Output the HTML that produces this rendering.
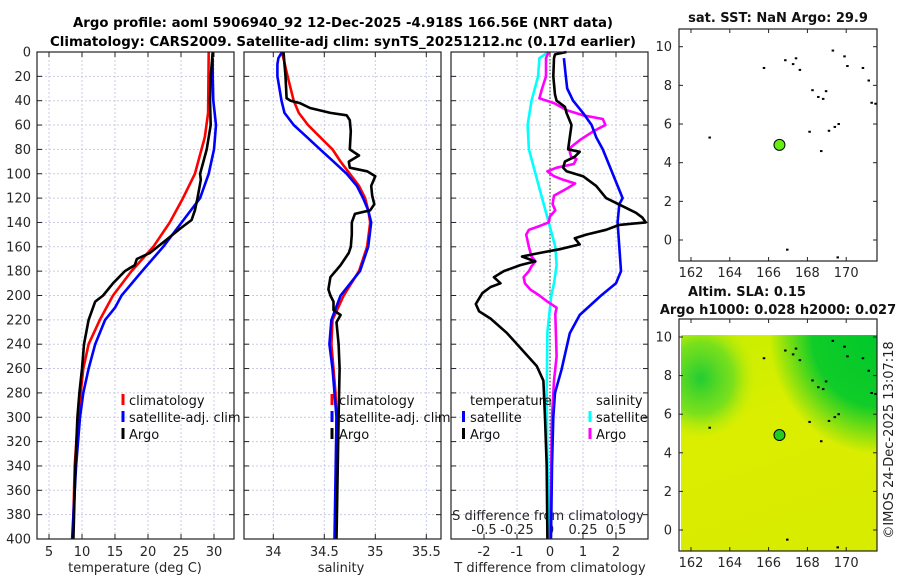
<!DOCTYPE html>
<html><head><meta charset="utf-8"><style>
html,body{margin:0;padding:0;background:#fff;}
svg{display:block;font-family:"DejaVu Sans","Liberation Sans",sans-serif;}
</style></head><body>
<svg id="fig" width="900" height="580" viewBox="0 0 900 580" xmlns="http://www.w3.org/2000/svg">
<g id="titles">
<text x="343" y="27" text-anchor="middle" font-size="13" font-weight="bold" textLength="540" lengthAdjust="spacingAndGlyphs">Argo profile: aoml 5906940_92 12-Dec-2025 -4.918S 166.56E (NRT data)</text>
<text x="343" y="46" text-anchor="middle" font-size="13" font-weight="bold" textLength="586" lengthAdjust="spacingAndGlyphs">Climatology: CARS2009. Satellite-adj clim: synTS_20251212.nc (0.17d earlier)</text>
</g>
</svg>
<script>
// ---------- data ----------
const depthTicks=[0,20,40,60,80,100,120,140,160,180,200,220,240,260,280,300,320,340,360,380,400];
const tempTicks=[5,10,15,20,25,30];
const salTicks=[34,34.5,35,35.5];
const salTickLabels=["34","34.5","35","35.5"];
const dTTicks=[-2,-1,0,1,2];
const dSTicks=[-0.5,-0.25,0,0.25,0.5];
const dSTickLabels=["-0.5","-0.25","0","0.25","0.5"];

const tClimDepth=[0,50,70,80,100,120,140,160,180,200,220,240,260,280,300,340,400];
const tClimVal=[29.2,29.1,28.6,28.1,27.1,25.3,23.3,20.8,17.5,14.7,12.7,11.0,10.2,9.8,9.4,8.9,8.6];
const tSatDepth=[5,20,40,60,80,100,120,140,160,180,200,210,220,240,260,280,300,340,400];
const tSatVal=[29.8,29.8,29.9,30.3,30.0,29.2,27.9,25.1,22.3,19.1,16.0,15.0,13.5,12.0,11.0,10.2,9.7,9.1,8.5];
const tArgoDepth=[0,20,40,60,80,90,100,105,120,130,138,145,155,165,170,175,180,190,200,205,220,240,260,280,300,340,400];
const tArgoVal=[29.8,29.5,29.4,29.5,28.9,28.4,27.9,28.0,27.5,27.1,26.6,24.9,22.6,20.3,18.3,18.0,16.5,14.7,13.2,12.0,11.0,10.3,10.0,9.6,9.3,9.0,8.7];

const sClimDepth=[0,20,40,50,60,70,80,90,100,110,120,130,140,160,180,200,220,240,260,280,300,400];
const sClimVal=[34.085,34.14,34.2,34.25,34.34,34.46,34.58,34.66,34.75,34.84,34.9,34.93,34.95,34.92,34.84,34.69,34.58,34.57,34.59,34.61,34.62,34.61];
const sSatDepth=[0,5,10,20,40,50,60,70,80,90,100,110,120,130,140,160,180,200,220,240,260,280,300,400];
const sSatVal=[34.085,34.05,34.04,34.04,34.08,34.11,34.2,34.33,34.46,34.59,34.72,34.82,34.88,34.93,34.96,34.93,34.85,34.66,34.57,34.55,34.58,34.6,34.62,34.6];
const sArgoDepth=[0,10,20,38,40,42,46,50,52,56,65,80,85,90,95,98,102,110,118,125,130,133,140,150,160,165,175,185,195,200,205,212,216,222,240,260,300,400];
const sArgoVal=[34.1,34.11,34.12,34.13,34.17,34.26,34.36,34.56,34.72,34.75,34.76,34.75,34.84,34.74,34.75,34.92,35.0,34.96,34.97,34.99,34.95,34.8,34.77,34.77,34.76,34.74,34.66,34.56,34.54,34.56,34.59,34.59,34.66,34.62,34.64,34.65,34.64,34.62];

const dTSatDepth=[5,20,30,40,50,60,70,80,100,120,125,140,160,180,190,200,216,231,261,280,300,340,400];
const dTSatVal=[0.42,0.48,0.52,0.7,1.0,1.26,1.4,1.6,1.9,2.2,2.1,2.05,2.1,2.15,2.0,1.55,0.9,0.6,0.35,0.15,0.1,0.06,0.03];
const dTArgoDepth=[0,2,5,20,35,40,45,50,60,70,80,82,86,90,95,98,102,110,120,128,132,136,140,142,146,150,153,158,162,165,168,172,175,180,185,190,193,198,207,213,219,231,246,258,270,300,340,400];
const dTArgoVal=[0.5,0.15,0.12,0.1,0.15,0.2,0.45,0.5,0.65,0.6,0.55,0.9,0.75,0.45,0.4,0.5,1.0,1.4,1.7,2.3,2.6,2.8,2.9,2.1,1.7,1.1,0.75,0.9,0.3,-0.3,-0.85,-0.45,-0.9,-1.4,-1.7,-1.5,-1.8,-2.05,-2.25,-2.15,-1.8,-1.3,-0.8,-0.4,-0.2,-0.15,-0.1,-0.08];
const dSSatDepth=[0,5,20,40,60,80,100,120,140,160,175,190,200,230,280,330,400];
const dSSatVal=[-0.01,-0.08,-0.09,-0.14,-0.17,-0.16,-0.11,-0.06,-0.01,0.04,0.05,0.03,0.01,-0.02,-0.025,-0.02,-0.01];
const dSArgoDepth=[0,5,20,30,38,42,48,52,55,60,65,72,78,82,86,88,92,95,98,102,105,108,112,118,125,130,135,140,143,146,150,160,168,172,176,180,185,190,195,200,205,210,215,250,270,300,400];
const dSArgoVal=[-0.01,-0.03,-0.03,-0.06,-0.08,0.03,0.13,0.25,0.4,0.42,0.33,0.23,0.16,0.15,0.16,0.2,0.18,0.05,-0.02,0.03,0.1,0.19,0.13,0.03,0.02,0.04,0.0,-0.01,-0.08,-0.16,-0.18,-0.16,-0.14,-0.11,-0.14,-0.16,-0.2,-0.19,-0.15,-0.08,-0.02,0.05,0.04,0.05,0.03,0.015,0.0];

const mapLonTicks=[162,164,166,168,170];
const mapLatTicks=[0,2,4,6,8,10];
const islandLon=[162.95,165.75,166.85,167.25,167.4,167.6,168.25,168.55,168.8,168.95,169.3,169.9,170.05,170.85,171.15,171.3,171.5,169.6,169.4,169.1,168.1,168.7,166.95,169.55];
const islandLat=[5.3,8.9,9.3,9.1,9.4,8.8,7.75,7.4,7.3,7.7,9.8,9.5,9.0,8.9,8.25,7.1,7.05,6.0,5.85,5.65,5.6,4.6,-0.5,-0.9];
const argoLon=[166.56];
const argoLat=[4.92];

// ---------- helpers ----------
const NS="http://www.w3.org/2000/svg";
const svg=document.getElementById('fig');
function mk(tag,attrs,parent){const e=document.createElementNS(NS,tag);for(const k in attrs)e.setAttribute(k,attrs[k]);(parent||svg).appendChild(e);return e;}
function txt(s,x,y,attrs,parent){const e=mk('text',Object.assign({x:x,y:y,'font-size':13,fill:'#262626'},attrs||{}),parent);e.textContent=s;return e;}

const top0=52, bot0=539;
const yD=d=>top0+d*(bot0-top0)/400;
const xT=t=>49+(t-5)*6.6;
const xS=s=>273.3+(s-34)*102;
const xDT=v=>550+v*33;
const xDS=v=>550+v*132;
const panels=[{x0:37,x1:234},{x0:244,x1:441},{x0:451,x1:648}];

// grids & frames
panels.forEach((p,i)=>{
  const g=mk('g',{});
  
  
  depthTicks.forEach(d=>{if(d>0&&d<400){mk('line',{x1:p.x0,x2:p.x1,y1:yD(d),y2:yD(d),stroke:'#c9cbe6','stroke-width':1,'stroke-dasharray':'2,2'},g);}
    mk('line',{x1:p.x0,x2:p.x0+5,y1:yD(d),y2:yD(d),stroke:'#222','stroke-width':1},g);
    mk('line',{x1:p.x1-5,x2:p.x1,y1:yD(d),y2:yD(d),stroke:'#222','stroke-width':1},g);});
  let xs=i===0?tempTicks.map(xT):i===1?salTicks.map(xS):dTTicks.map(xDT);
  xs.forEach(x=>{mk('line',{x1:x,x2:x,y1:top0,y2:bot0,stroke:'#c9cbe6','stroke-width':1,'stroke-dasharray':'2,2'},g);
    mk('line',{x1:x,x2:x,y1:bot0-5,y2:bot0,stroke:'#222'},g);mk('line',{x1:x,x2:x,y1:top0,y2:top0+5,stroke:'#222'},g);});
});
// zero line panel 3
const zl=mk('line',{x1:xDT(0),x2:xDT(0),y1:top0,y2:bot0,stroke:'#445533','stroke-width':1.2,'stroke-dasharray':'1.5,2'});



// y tick labels
const yl=mk('g',{});


depthTicks.forEach(d=>txt(String(d),31,yD(d)+4.5,{'text-anchor':'end'},yl));

// x tick labels
const xl1=mk('g',{});


tempTicks.forEach(t=>txt(String(t),xT(t),556,{'text-anchor':'middle'},xl1));
txt('temperature (deg C)',135,572,{'text-anchor':'middle'});
const xl2=mk('g',{});


salTicks.forEach((s,i)=>txt(salTickLabels[i],xS(s),556,{'text-anchor':'middle'},xl2));
txt('salinity',341,572,{'text-anchor':'middle'});
const xl3=mk('g',{});


dTTicks.forEach(v=>txt(String(v),xDT(v),556,{'text-anchor':'middle'},xl3));
txt('T difference from climatology',550,572,{'text-anchor':'middle'});
txt('S difference from climatology',548,520,{'text-anchor':'middle'});
const xl4=mk('g',{});


dSTicks.forEach((v,i)=>txt(dSTickLabels[i],xDS(v),534,{'text-anchor':'middle'},xl4));

// series
function series(name,ds,vs,xf,color,clipId){
  const pts=ds.map((d,i)=>xf(vs[i]).toFixed(1)+','+yD(d).toFixed(1)).join(' ');
  const pl=mk('polyline',{points:pts,fill:'none',stroke:color,'stroke-width':2.6,'stroke-linejoin':'round','clip-path':'url(#'+clipId+')'});
  
  
}
const defs=mk('defs',{});
panels.forEach((p,i)=>{const c=mk('clipPath',{id:'clip'+i},defs);mk('rect',{x:p.x0,y:top0-2,width:p.x1-p.x0,height:bot0-top0+2},c);});
series('temp-climatology-line',tClimDepth,tClimVal,xT,'#ff0000','clip0');
series('temp-satellite-line',tSatDepth,tSatVal,xT,'#0000ff','clip0');
series('temp-argo-line',tArgoDepth,tArgoVal,xT,'#000000','clip0');
series('sal-climatology-line',sClimDepth,sClimVal,xS,'#ff0000','clip1');
series('sal-satellite-line',sSatDepth,sSatVal,xS,'#0000ff','clip1');
series('sal-argo-line',sArgoDepth,sArgoVal,xS,'#000000','clip1');
series('sdiff-satellite-line',dSSatDepth,dSSatVal,xDS,'#00ffff','clip2');
series('sdiff-argo-line',dSArgoDepth,dSArgoVal,xDS,'#ff00ff','clip2');
series('tdiff-satellite-line',dTSatDepth,dTSatVal,xDT,'#0000ff','clip2');
series('tdiff-argo-line',dTArgoDepth,dTArgoVal,xDT,'#000000','clip2');

// frames
panels.forEach((p,i)=>{const r=mk('rect',{x:p.x0,y:top0,width:p.x1-p.x0,height:bot0-top0,fill:'none',stroke:'#222','stroke-width':1.2});
  
  });

// legends
function legendEntry(name,mx,tx,y,color,label){
  const g=mk('g',{});
  
  
  mk('line',{x1:mx,x2:mx,y1:y-6,y2:y+5,stroke:color,'stroke-width':3},g);
  txt(label,tx,y+5,{fill:'#111'},g);
}
legendEntry('legend-entry-climatology',123,129,400,'#ff0000','climatology');
legendEntry('legend-entry-satellite-adj',123,129,417,'#0000ff','satellite-adj. clim');
legendEntry('legend-entry-argo',123,129,434,'#000000','Argo');
legendEntry('legend-entry-sal-climatology',332,339,400,'#ff0000','climatology');
legendEntry('legend-entry-sal-satellite-adj',332,339,417,'#0000ff','satellite-adj. clim');
legendEntry('legend-entry-sal-argo',332,339,434,'#000000','Argo');
txt('temperature',470,405,{fill:'#111'});
txt('salinity',596,405,{fill:'#111'});
legendEntry('legend-entry-tdiff-satellite',463.5,470,417,'#0000ff','satellite');
legendEntry('legend-entry-tdiff-argo',463.5,470,434,'#000000','Argo');
legendEntry('legend-entry-sdiff-satellite',590,596,417,'#00ffff','satellite');
legendEntry('legend-entry-sdiff-argo',590,596,434,'#ff00ff','Argo');

// ---------- maps ----------
const mx0=679,mx1=877;
const xLon=l=>691+(l-162)*19.4;
function drawMap(name,top,bot,yLat,heat,dotColor,titles){
  const g=mk('g',{});
  
  
  if(heat){
    const gd=mk('defs',{},g);
    const rg=mk('radialGradient',{id:'gTR',cx:'1',cy:'0',r:'0.55'},gd);
    mk('stop',{offset:'0','stop-color':'#00c82a'},rg);mk('stop',{offset:'0.6','stop-color':'#10cc28'},rg);mk('stop',{offset:'1','stop-color':'#10cc28','stop-opacity':0},rg);
    const rg2=mk('radialGradient',{id:'gTL',cx:'0.1',cy:'0.2',r:'0.28'},gd);
    mk('stop',{offset:'0','stop-color':'#22cc33'},rg2);mk('stop',{offset:'0.6','stop-color':'#66dd22','stop-opacity':0.8},rg2);mk('stop',{offset:'1','stop-color':'#aaea10','stop-opacity':0},rg2);
    const lg=mk('linearGradient',{id:'gBase',x1:'0',y1:'0',x2:'0.3',y2:'1'},gd);
    mk('stop',{offset:'0','stop-color':'#c8ee00'},lg);mk('stop',{offset:'0.5','stop-color':'#dcee00'},lg);mk('stop',{offset:'1','stop-color':'#d8ec00'},lg);
    const dy=yLat(10.1);
    mk('rect',{x:681,y:dy,width:mx1-681,height:bot-dy,fill:'url(#gBase)'},g);
    mk('rect',{x:681,y:dy,width:mx1-681,height:bot-dy,fill:'url(#gTL)'},g);
    mk('rect',{x:681,y:dy,width:mx1-681,height:bot-dy,fill:'url(#gTR)'},g);
  }
  islandLon.forEach((l,i)=>{const s=mk('rect',{x:xLon(l)-1,y:yLat(islandLat[i])-1,width:2.5,height:2,fill:'#000'},g);});
  argoLon.forEach((l,i)=>{const c=mk('circle',{cx:xLon(l),cy:yLat(argoLat[i]),r:5.5,fill:dotColor,stroke:'#000','stroke-width':1},g);
    
    });
  mk('rect',{x:mx0,y:top,width:mx1-mx0,height:bot-top,fill:'none',stroke:'#222','stroke-width':1.2},g);
  mapLatTicks.forEach(l=>{const y=yLat(l);mk('line',{x1:mx0,x2:mx0+4,y1:y,y2:y,stroke:'#222'},g);mk('line',{x1:mx1-4,x2:mx1,y1:y,y2:y,stroke:'#222'},g);
    txt(String(l),672,y+4.5,{'text-anchor':'end'},g);});
  mapLonTicks.forEach(l=>{const x=xLon(l);mk('line',{x1:x,x2:x,y1:bot-4,y2:bot,stroke:'#222'},g);mk('line',{x1:x,x2:x,y1:top,y2:top+4,stroke:'#222'},g);
    txt(String(l),x,bot+16,{'text-anchor':'middle'},g);});
  titles.forEach(t=>txt(t[0],t[1],t[2],{'text-anchor':'middle','font-weight':'bold',fill:'#111'},g));
}
drawMap('sst-map',29,261,l=>240-l*19.33,false,'#66ee11',[['sat. SST: NaN Argo: 29.9',778,22]]);
drawMap('sla-map',319,551,l=>530-l*19.3,true,'#22cc22',[['Altim. SLA: 0.15',747,296],['Argo h1000: 0.028 h2000: 0.027',778,314]]);

const cp=txt('©IMOS 24-Dec-2025 13:07:18',0,0,{'text-anchor':'middle',transform:'translate(893,440) rotate(-90)',fill:'#222'});


</script>
</body></html>
